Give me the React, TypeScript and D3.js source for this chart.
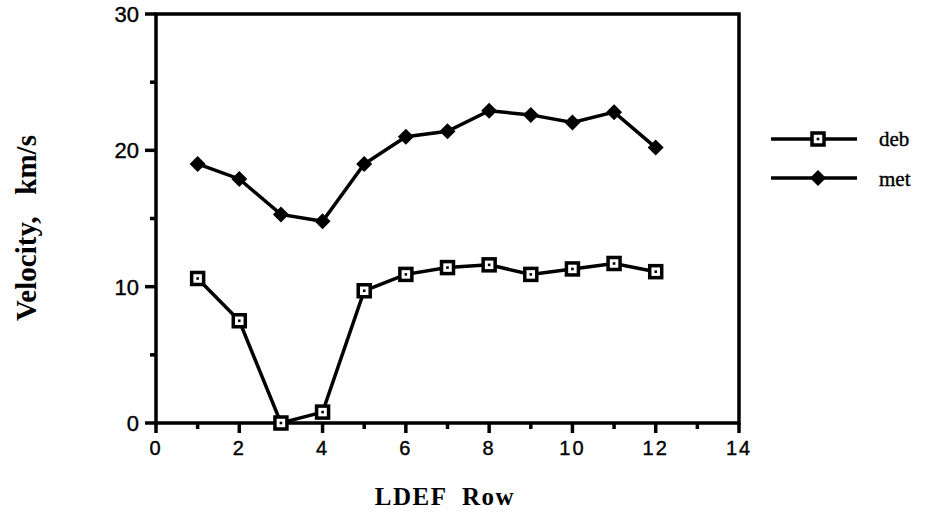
import React from "react";
import * as d3 from "d3";

const rows = [1, 2, 3, 4, 5, 6, 7, 8, 9, 10, 11, 12];
const debValues = [10.6, 7.5, 0, 0.8, 9.7, 10.9, 11.4, 11.6, 10.9, 11.3, 11.7, 11.1];
const metValues = [19.0, 17.9, 15.3, 14.8, 19.0, 21.0, 21.4, 22.9, 22.6, 22.05, 22.8, 20.2];
const xTicks = [0, 2, 4, 6, 8, 10, 12, 14];
const xMinor = [1, 3, 5, 7, 9, 11, 13];
const yTicks = [0, 10, 20, 30];
const yMinor = [5, 15, 25];

const W = 927, H = 514;
const left = 156, right = 739, top = 14, bottom = 423;

export default function App() {
  const x = d3.scaleLinear().domain([0, 14]).range([left, right]);
  const y = d3.scaleLinear().domain([0, 30]).range([bottom, top]);
  const line = d3.line<number>().x((_, i) => x(rows[i])).y((d) => y(d));
  const sans = "'Liberation Sans', Arial, sans-serif";
  const serif = "'Liberation Serif', 'Times New Roman', serif";
  const sw = 3.5;
  const diamond = (cx: number, cy: number, r: number) =>
    `M${cx},${cy - r}L${cx + r},${cy}L${cx},${cy + r}L${cx - r},${cy}Z`;
  const square = (cx: number, cy: number, k: string) => (
    <g key={k}>
      <rect x={cx - 6} y={cy - 6} width={12} height={12} fill="#fff" stroke="#000" strokeWidth={3.5} />
      <rect x={cx - 1.3} y={cy - 1.3} width={2.6} height={2.6} fill="#000" />
    </g>
  );
  return (
    <svg width={W} height={H} style={{ position: "absolute", left: 0, top: 0 }}>
      <rect width={W} height={H} fill="#fff" />
      <rect x={left} y={top} width={right - left} height={bottom - top} fill="none" stroke="#000" strokeWidth={sw} />
      {xTicks.map((t) => (
        <g key={"xt" + t}>
          <line x1={x(t)} x2={x(t)} y1={bottom} y2={bottom + 10} stroke="#000" strokeWidth={sw} />
          <text x={x(t)} y={bottom + 32} textAnchor="middle" fontFamily={sans} fontSize={20} stroke="#000" strokeWidth={0.4} letterSpacing={2}>{t}</text>
        </g>
      ))}
      {xMinor.map((t) => (
        <line key={"xm" + t} x1={x(t)} x2={x(t)} y1={bottom} y2={bottom + 6} stroke="#000" strokeWidth={sw} />
      ))}
      {yTicks.map((t) => (
        <g key={"yt" + t}>
          <line x1={left - 11} x2={left} y1={y(t)} y2={y(t)} stroke="#000" strokeWidth={sw} />
          <text x={left - 17} y={y(t) + 8} textAnchor="end" fontFamily={sans} fontSize={22} stroke="#000" strokeWidth={0.4}>{t}</text>
        </g>
      ))}
      {yMinor.map((t) => (
        <line key={"ym" + t} x1={left - 6} x2={left} y1={y(t)} y2={y(t)} stroke="#000" strokeWidth={sw} />
      ))}
      <path d={line(debValues) || ""} fill="none" stroke="#000" strokeWidth={sw} />
      <path d={line(metValues) || ""} fill="none" stroke="#000" strokeWidth={sw} />
      {debValues.map((v, i) => square(x(rows[i]), y(v), "d" + i))}
      {metValues.map((v, i) => (
        <path key={"m" + i} d={diamond(x(rows[i]), y(v), 8)} fill="#000" />
      ))}
      <text x={445} y={505} textAnchor="middle" fontFamily={serif} fontWeight="bold" fontSize={25} letterSpacing={1.5} style={{ whiteSpace: "pre" }}>LDEF  Row</text>
      <text transform={`translate(36,228) rotate(-90)`} textAnchor="middle" fontFamily={serif} fontWeight="bold" fontSize={29} style={{ whiteSpace: "pre" }}>Velocity,   km/s</text>
      <line x1={771} x2={857} y1={139} y2={139} stroke="#000" strokeWidth={sw} />
      {square(818, 139, "ld")}
      <text x={879} y={146} fontFamily={serif} fontSize={21} stroke="#000" strokeWidth={0.4}>deb</text>
      <line x1={771} x2={857} y1={178} y2={178} stroke="#000" strokeWidth={sw} />
      <path d={diamond(818, 178, 8)} fill="#000" />
      <text x={879} y={186} fontFamily={serif} fontSize={21} stroke="#000" strokeWidth={0.4}>met</text>
    </svg>
  );
}
